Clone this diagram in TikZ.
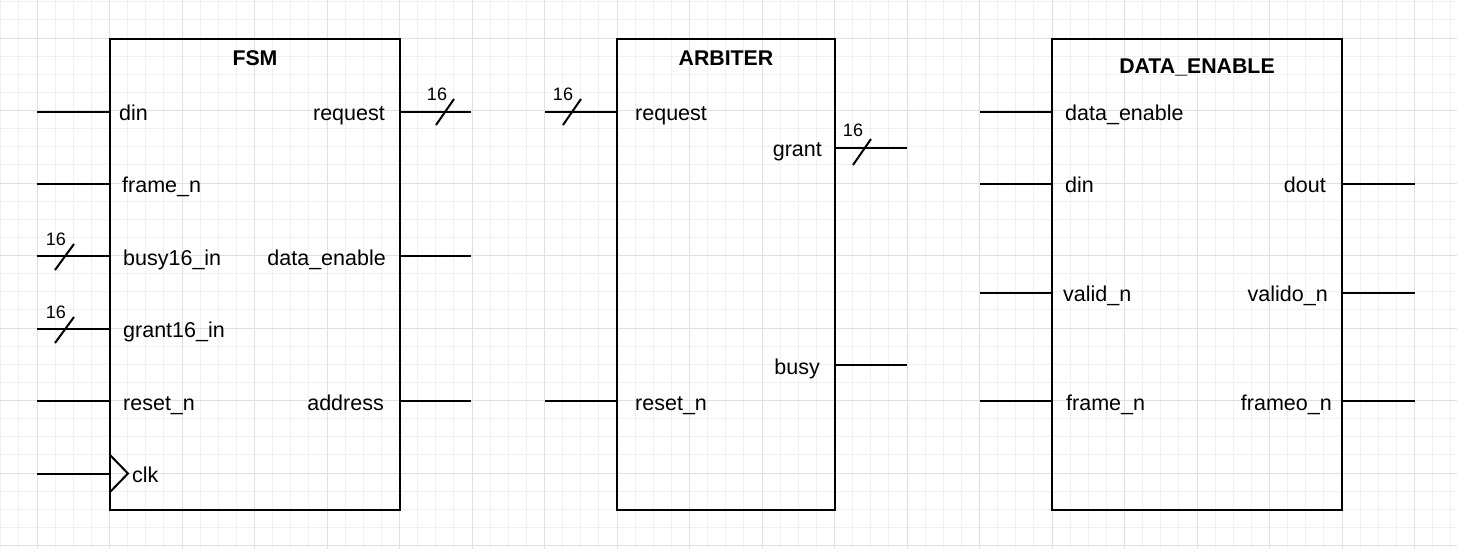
\documentclass[tikz,border=0pt]{standalone}
\usepackage{fontspec}
\setmainfont{Liberation Sans}
\begin{document}
\begin{tikzpicture}[x=1pt,y=-1pt,
  minorgrid/.style={draw=black!6,line width=1pt},
  majorgrid/.style={draw=black!12,line width=1pt},
  block/.style={draw=black,line width=2pt,rectangle,inner sep=0pt,outer sep=0pt,anchor=north west},
  wire/.style={draw=black,line width=2pt},
  slash/.style={draw=black,line width=2pt},
  lbl/.style={inner sep=0pt,font=\fontsize{21.5}{24}\selectfont},
  lblw/.style={lbl,anchor=base west},
  lble/.style={lbl,anchor=base east},
  ttl/.style={inner sep=0pt,anchor=base,font=\fontsize{21.3}{24}\selectfont\bfseries},
  buswidth/.style={inner sep=0pt,anchor=base,font=\fontsize{18}{20}\selectfont}]
\useasboundingbox (0,0) rectangle (1457,549);
\fill[white] (0,0) rectangle (1457,549);
% grid
\foreach \i in {0,...,80} \draw[minorgrid] ({0.75+18.125*\i},0) -- ({0.75+18.125*\i},549);
\foreach \i in {0,...,30} \draw[minorgrid] (0,{1.75+18.125*\i}) -- (1457,{1.75+18.125*\i});
\foreach \i in {0,...,19} \draw[majorgrid] ({37+72.5*\i},0) -- ({37+72.5*\i},549);
\foreach \i in {0,...,7} \draw[majorgrid] (0,{38+72.5*\i}) -- (1457,{38+72.5*\i});

% blocks
\node[block,minimum width=290pt,minimum height=471pt] (fsm) at (110,39) {};
\node[block,minimum width=218pt,minimum height=471pt] (arb) at (617,39) {};
\node[block,minimum width=290pt,minimum height=471pt] (de) at (1052,39) {};

\node[ttl] (fsmt) at (255,65) {FSM};
\node[ttl] (arbt) at (726,65) {ARBITER};
\node[ttl] (det) at (1197,73) {DATA\_ENABLE};

% FSM ports
\coordinate (f1a) at (37,112);  \coordinate (f1b) at (110,112);
\coordinate (f2a) at (37,184);  \coordinate (f2b) at (110,184);
\coordinate (f3a) at (37,256);  \coordinate (f3b) at (110,256);
\coordinate (f4a) at (37,329);  \coordinate (f4b) at (110,329);
\coordinate (f5a) at (37,401);  \coordinate (f5b) at (110,401);
\coordinate (f6a) at (37,474);  \coordinate (f6b) at (110,474);
\coordinate (fo1a) at (400,112); \coordinate (fo1b) at (471,112);
\coordinate (fo2a) at (400,256); \coordinate (fo2b) at (471,256);
\coordinate (fo3a) at (400,401); \coordinate (fo3b) at (471,401);
\foreach \p in {f1,f2,f3,f4,f5,f6,fo1,fo2,fo3} \draw[wire] (\p a) -- (\p b);

\node[lblw] (fl1) at (119,120) {din};
\node[lblw] (fl2) at (122,192) {frame\_n};
\node[lblw] (fl3) at (123,265) {busy16\_in};
\node[lblw] (fl4) at (123,337) {grant16\_in};
\node[lblw] (fl5) at (123,410) {reset\_n};
\node[lblw] (fl6) at (132,482) {clk};
\node[lble] (fr1) at (385,120) {request};
\node[lble] (fr2) at (386,265) {data\_enable};
\node[lble] (fr3) at (384,410) {address};
% clock triangle
\draw[line width=2pt,line join=miter] (110,455) -- (128,473.5) -- (110,492);

% ARBITER ports
\coordinate (a1a) at (545,112);  \coordinate (a1b) at (617,112);
\coordinate (a2a) at (545,401);  \coordinate (a2b) at (617,401);
\coordinate (ao1a) at (835,148); \coordinate (ao1b) at (907,148);
\coordinate (ao2a) at (835,365); \coordinate (ao2b) at (907,365);
\foreach \p in {a1,a2,ao1,ao2} \draw[wire] (\p a) -- (\p b);
\node[lblw] (al1) at (635,120) {request};
\node[lblw] (al2) at (635,410) {reset\_n};
\node[lble] (ar1) at (822,156) {grant};
\node[lble] (ar2) at (820,374) {busy};

% DATA_ENABLE ports
\coordinate (d1a) at (980,112);  \coordinate (d1b) at (1052,112);
\coordinate (d2a) at (980,184);  \coordinate (d2b) at (1052,184);
\coordinate (d3a) at (980,293);  \coordinate (d3b) at (1052,293);
\coordinate (d4a) at (980,401);  \coordinate (d4b) at (1052,401);
\coordinate (do1a) at (1342,184); \coordinate (do1b) at (1415,184);
\coordinate (do2a) at (1342,293); \coordinate (do2b) at (1415,293);
\coordinate (do3a) at (1342,401); \coordinate (do3b) at (1415,401);
\foreach \p in {d1,d2,d3,d4,do1,do2,do3} \draw[wire] (\p a) -- (\p b);
\node[lblw] (dl1) at (1065,120) {data\_enable};
\node[lblw] (dl2) at (1065,192) {din};
\node[lblw] (dl3) at (1063,301) {valid\_n};
\node[lblw] (dl4) at (1066,410) {frame\_n};
\node[lble] (dr1) at (1326,192) {dout};
\node[lble] (dr2) at (1328,301) {valido\_n};
\node[lble] (dr3) at (1332,410) {frameo\_n};

% bus slashes and widths
\draw[slash] (55,270) -- (74,244);
\node[buswidth] (b1) at (56,245) {16};
\draw[slash] (55,343) -- (74,317);
\node[buswidth] (b2) at (56,318) {16};
\draw[slash] (436,125) -- (454,99);
\node[buswidth] (b3) at (437,100) {16};
\draw[slash] (563,125) -- (581,99);
\node[buswidth] (b4) at (563,100) {16};
\draw[slash] (853,165) -- (871,139);
\node[buswidth] (b5) at (853,136) {16};
\end{tikzpicture}
\end{document}
